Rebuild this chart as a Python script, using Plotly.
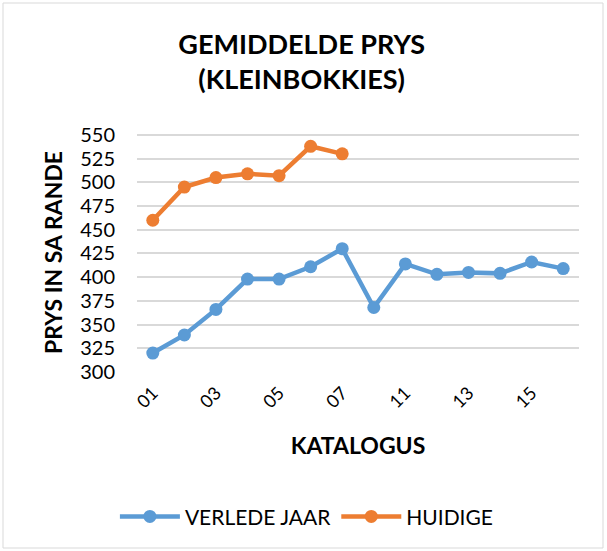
import plotly.graph_objects as go

categories = ["01", "02", "03", "04", "05", "06", "07", "10", "11", "12", "13", "14", "15", "16"]
verlede_jaar = [320, 339, 366, 398, 398, 411, 430, 368, 414, 403, 405, 404, 416, 409]
huidige = [460, 495, 505, 509, 507, 538, 530, None, None, None, None, None, None, None]
tick_labels = ["01", "03", "05", "07", "11", "13", "15"]
y_ticks = [300, 325, 350, 375, 400, 425, 450, 475, 500, 525, 550]

BLUE = "#5B9BD5"
ORANGE = "#ED7D31"
FONT = "Lato"

fig = go.Figure()
fig.add_trace(go.Scatter(x=categories, y=verlede_jaar, name="VERLEDE JAAR", mode="lines+markers",
                         line=dict(color=BLUE, width=4.5), marker=dict(size=13, color=BLUE)))
fig.add_trace(go.Scatter(x=categories, y=huidige, name="HUIDIGE", mode="lines+markers",
                         line=dict(color=ORANGE, width=4.5), marker=dict(size=13, color=ORANGE)))

fig.update_layout(
    width=607, height=551,
    margin=dict(l=137, r=28, t=133, b=179, autoexpand=False),
    paper_bgcolor="white", plot_bgcolor="white",
    font=dict(family=FONT, color="#000000"),
    title=dict(text="<b>GEMIDDELDE PRYS<br>(KLEINBOKKIES)</b>", x=0.497, xanchor="center",
               y=0.902, yanchor="top", font=dict(size=27, family=FONT, color="#000000")),
    xaxis=dict(type="category", categoryorder="array", categoryarray=categories,
               range=[-0.5, len(categories) - 0.5],
               tickmode="array", tickvals=tick_labels, ticktext=tick_labels, automargin=False,
               tickangle=-45, tickfont=dict(size=18), showgrid=False, showline=False,
               ticks="", ticklabelstandoff=6,
               title=dict(text="<b>KATALOGUS</b>", font=dict(size=23), standoff=26)),
    yaxis=dict(range=[300, 552], tickvals=y_ticks, tickfont=dict(size=20), automargin=False,
               showgrid=True, gridcolor="#D9D9D9", gridwidth=1.5, zeroline=False,
               showline=False, ticks="", ticklabelstandoff=21,
               title=dict(text="<b>PRYS IN SA RANDE</b>", font=dict(size=23), standoff=11)),
    legend=dict(orientation="h", x=-0.05, xanchor="left", y=-0.52, yanchor="top",
                font=dict(size=21), itemwidth=60),
    shapes=[dict(type="rect", xref="paper", yref="paper",
                 x0=(3 - 137) / 442, x1=(603 - 137) / 442,
                 y0=(372 - 548) / 239, y1=(372 - 3) / 239,
                 line=dict(color="#D9D9D9", width=1), fillcolor="rgba(0,0,0,0)", layer="below")],
)

fig.write_html("out.html", config={"displayModeBar": False},
               post_script="document.body.style.margin='0';")
